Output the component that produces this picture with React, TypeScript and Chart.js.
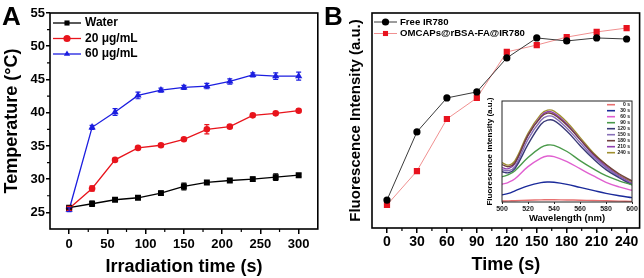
import React, { useEffect, useRef } from 'react';
import { Chart, registerables } from 'chart.js';

Chart.register(...registerables);

const FONT = '"Liberation Sans", Arial, Helvetica, sans-serif';

// ---------- Panel A data ----------
const timeA = [0, 30, 60, 90, 120, 150, 180, 210, 240, 270, 300];
const waterTemp = [25.7, 26.3, 26.9, 27.2, 27.9, 28.9, 29.5, 29.8, 30.0, 30.3, 30.6];
const waterErr = [0.2, 0.4, 0.2, 0.2, 0.3, 0.5, 0.2, 0.2, 0.3, 0.5, 0.2];
const temp20 = [25.6, 28.6, 32.9, 34.7, 35.1, 36.0, 37.5, 37.9, 39.6, 39.9, 40.3];
const err20 = [0.3, 0.4, 0.2, 0.2, 0.2, 0.2, 0.7, 0.2, 0.2, 0.2, 0.2];
const temp60 = [25.4, 37.8, 40.1, 42.6, 43.4, 43.8, 44.0, 44.7, 45.7, 45.5, 45.5];
const err60 = [0.3, 0.3, 0.5, 0.5, 0.3, 0.3, 0.4, 0.4, 0.3, 0.5, 0.6];
const seriesLabelsA = ['Water', '20 \u03bcg/mL', '60 \u03bcg/mL'];
const xTicksA = [0, 50, 100, 150, 200, 250, 300];
const xMinorA = [25, 75, 125, 175, 225, 275];
const yTicksA = [25, 30, 35, 40, 45, 50, 55];
const yMinorA = [27.5, 32.5, 37.5, 42.5, 47.5, 52.5];

// ---------- Panel B data ----------
const timeB = [0, 30, 60, 90, 120, 150, 180, 210, 240];
const freeIR780 = [13, 44.7, 60.5, 63.3, 79.1, 88.4, 87, 88.4, 87.9];
const omcaps = [10.7, 26.5, 50.7, 60.5, 81.9, 85.1, 88.8, 91.2, 93];
const seriesLabelsB = ['Free IR780', 'OMCAPs@rBSA-FA@IR780'];
const xTicksB = [0, 30, 60, 90, 120, 150, 180, 210, 240];
const xMinorB = [15, 45, 75, 105, 135, 165, 195, 225];

// ---------- Inset data ----------
const wavelengths = [500, 505, 510, 520, 530, 535, 540, 550, 560, 570, 580, 590, 600];
const spec0 = [1, 1.1, 1.3, 1.8, 2.1, 2.2, 2.2, 2, 1.8, 1.5, 1.2, 0.9, 0.6];
const spec30 = [7, 8.5, 11, 16, 19.2, 19.8, 19.6, 17.5, 14.5, 11.5, 8.5, 6.2, 4.3];
const spec60 = [17.5, 19.5, 23, 35, 43.5, 45.5, 45, 40, 33, 26, 19.5, 15, 11.6];
const spec90 = [25, 27, 31, 44, 54, 56.4, 56, 50, 41, 33, 26, 21, 17];
const spec120 = [30, 29, 33, 57, 77, 81, 80.5, 70, 56, 43, 32, 24, 17];
const spec150 = [32, 31, 35, 62, 81, 85, 84, 73, 59, 45, 34, 25, 17.5];
const spec180 = [37, 35, 39, 66, 84, 88, 86.5, 76, 62, 48, 37, 28, 21];
const spec210 = [34, 33, 38, 66, 85, 89.4, 88, 77, 62, 47, 35, 26, 18.5];
const spec240 = [39, 36.5, 41, 68, 87, 91, 90, 79, 64, 49, 37, 27, 20];
const specLabels = ['0 s', '30 s', '60 s', '90 s', '120 s', '150 s', '180 s', '210 s', '240 s'];
const specColors = ['#e87070', '#1a2a9a', '#e060d0', '#4a9a4a', '#3a3a78', '#8870b8', '#704040', '#9040b0', '#a09030'];
const specSeries = [spec0, spec30, spec60, spec90, spec120, spec150, spec180, spec210, spec240];
const xTicksInset = [500, 520, 540, 560, 580, 600];

function drawMarker(ctx: CanvasRenderingContext2D, style: string, x: number, y: number, r: number, color: string) {
  ctx.save();
  ctx.fillStyle = color;
  ctx.beginPath();
  if (style === 'rect') {
    const s = r * Math.SQRT1_2;
    ctx.rect(x - s, y - s, 2 * s, 2 * s);
  } else if (style === 'triangle') {
    ctx.moveTo(x, y - r);
    ctx.lineTo(x + r * 0.866, y + r * 0.5);
    ctx.lineTo(x - r * 0.866, y + r * 0.5);
    ctx.closePath();
  } else {
    ctx.arc(x, y, r, 0, Math.PI * 2);
  }
  ctx.fill();
  ctx.restore();
}

function makeDecor(o: any) {
  return {
    id: 'decor',
    afterDatasetsDraw(chart: any) {
      const ctx = chart.ctx;
      const ys = chart.scales.y;
      chart.data.datasets.forEach((ds: any, i: number) => {
        if (!ds.errors) return;
        const meta = chart.getDatasetMeta(i);
        ctx.save();
        ctx.strokeStyle = ds.borderColor;
        ctx.lineWidth = 1.2;
        meta.data.forEach((pt: any, j: number) => {
          const v = ds.data[j].y;
          const e = ds.errors[j];
          const y1 = ys.getPixelForValue(v - e);
          const y2 = ys.getPixelForValue(v + e);
          const x = pt.x;
          ctx.beginPath();
          ctx.moveTo(x, y1);
          ctx.lineTo(x, y2);
          ctx.moveTo(x - 2.5, y1);
          ctx.lineTo(x + 2.5, y1);
          ctx.moveTo(x - 2.5, y2);
          ctx.lineTo(x + 2.5, y2);
          ctx.stroke();
        });
        ctx.restore();
      });
    },
    afterDraw(chart: any) {
      const { ctx, chartArea: ca } = chart;
      ctx.save();
      // frame
      ctx.strokeStyle = o.frameColor || '#000';
      ctx.lineWidth = o.frameWidth;
      ctx.strokeRect(ca.left, ca.top, ca.right - ca.left, ca.bottom - ca.top);
      // minor ticks
      ctx.lineWidth = o.minorWidth || 1.2;
      ctx.beginPath();
      (o.minorX || []).forEach((v: number) => {
        const x = chart.scales.x.getPixelForValue(v);
        ctx.moveTo(x, ca.bottom);
        ctx.lineTo(x, ca.bottom + o.minorLen);
      });
      (o.minorY || []).forEach((v: number) => {
        const y = chart.scales.y.getPixelForValue(v);
        ctx.moveTo(ca.left, y);
        ctx.lineTo(ca.left - o.minorLen, y);
      });
      ctx.stroke();
      // legend
      if (o.legend) {
        const L = o.legend;
        ctx.font = L.font;
        ctx.textBaseline = 'middle';
        ctx.textAlign = L.textAlign || 'left';
        chart.data.datasets.forEach((ds: any, i: number) => {
          const y = L.y + i * L.dy;
          ctx.strokeStyle = ds.borderColor;
          ctx.lineWidth = L.lineWidth;
          ctx.beginPath();
          ctx.moveTo(L.x0, y);
          ctx.lineTo(L.x1, y);
          ctx.stroke();
          if (L.markerR) {
            drawMarker(ctx, ds.pointStyle, L.mx, y, L.markerR, ds.pointBackgroundColor);
          }
          ctx.fillStyle = L.textColor || '#000';
          ctx.fillText(ds.label, L.tx, y);
        });
      }
      // panel label
      if (o.label) {
        ctx.fillStyle = '#000';
        ctx.font = 'bold 26px ' + FONT;
        ctx.textAlign = 'left';
        ctx.textBaseline = 'alphabetic';
        ctx.fillText(o.label, o.labelX, o.labelY);
      }
      ctx.restore();
    },
  };
}

function pts(xs: number[], ys: number[]) {
  return xs.map((x, i) => ({ x, y: ys[i] }));
}

const boldFont = (size: number) => ({ family: FONT, size, weight: 'bold' as const });

function configA(): any {
  const mk = (label: string, ys: number[], errs: number[], color: string, style: string, r: number) => ({
    label,
    data: pts(timeA, ys),
    errors: errs,
    borderColor: color,
    backgroundColor: color,
    pointBackgroundColor: color,
    pointBorderColor: color,
    pointBorderWidth: 0,
    pointStyle: style,
    pointRadius: r,
    borderWidth: 1.3,
    tension: 0,
  });
  return {
    type: 'line',
    data: {
      datasets: [
        mk(seriesLabelsA[0], waterTemp, waterErr, '#000000', 'rect', 4.2),
        mk(seriesLabelsA[1], temp20, err20, '#e8141c', 'circle', 3.3),
        mk(seriesLabelsA[2], temp60, err60, '#1c1ee0', 'triangle', 4.2),
      ],
    },
    options: {
      animation: false,
      responsive: false,
      layout: { padding: { left: 0, top: 13, right: 3, bottom: 0 } },
      plugins: { legend: { display: false }, tooltip: { enabled: false } },
      scales: {
        x: {
          type: 'linear',
          min: -25,
          max: 325,
          afterBuildTicks: (s: any) => { s.ticks = xTicksA.map((v) => ({ value: v })); },
          afterFit: (s: any) => { s.height = 49; },
          ticks: { font: boldFont(13), color: '#000', padding: 3, autoSkip: false, maxRotation: 0 },
          grid: { drawOnChartArea: false, drawTicks: true, tickLength: 5, color: '#000', lineWidth: 1.5 },
          border: { display: false },
          title: { display: true, text: 'Irradiation time (s)', font: boldFont(18), color: '#000', padding: { top: 0, bottom: 0 } },
        },
        y: {
          type: 'linear',
          min: 22.5,
          max: 55,
          afterBuildTicks: (s: any) => { s.ticks = yTicksA.map((v) => ({ value: v })); },
          afterFit: (s: any) => { s.width = 50; },
          ticks: { font: boldFont(13), color: '#000', padding: 1, autoSkip: false },
          grid: { drawOnChartArea: false, drawTicks: true, tickLength: 4, color: '#000', lineWidth: 1.5 },
          border: { display: false },
          title: { display: true, text: 'Temperature (\u00b0C)', font: boldFont(18), color: '#000', padding: { top: 1, bottom: 0 } },
        },
      },
    },
    plugins: [
      makeDecor({
        frameWidth: 1.6,
        minorX: xMinorA,
        minorY: yMinorA,
        minorLen: 3,
        label: 'A',
        labelX: 2,
        labelY: 25,
        legend: { x0: 53, x1: 81, mx: 67, tx: 85, y: 23, dy: 15.5, lineWidth: 1.3, markerR: 3.6, font: 'bold 12px ' + FONT },
      }),
    ],
  };
}

function configB(): any {
  return {
    type: 'line',
    data: {
      datasets: [
        {
          label: seriesLabelsB[0],
          data: pts(timeB, freeIR780),
          borderColor: '#3a3a3a',
          pointBackgroundColor: '#000',
          pointBorderColor: '#000',
          pointBorderWidth: 0,
          pointStyle: 'circle',
          pointRadius: 3.6,
          borderWidth: 1,
          tension: 0,
        },
        {
          label: seriesLabelsB[1],
          data: pts(timeB, omcaps),
          borderColor: '#f09090',
          pointBackgroundColor: '#e8121e',
          pointBorderColor: '#e8121e',
          pointBorderWidth: 0,
          pointStyle: 'rect',
          pointRadius: 4.4,
          borderWidth: 1,
          tension: 0,
        },
      ],
    },
    options: {
      animation: false,
      responsive: false,
      layout: { padding: { left: 0, top: 13, right: 4, bottom: 0 } },
      plugins: { legend: { display: false }, tooltip: { enabled: false } },
      scales: {
        x: {
          type: 'linear',
          min: -15,
          max: 253,
          afterBuildTicks: (s: any) => { s.ticks = xTicksB.map((v) => ({ value: v })); },
          afterFit: (s: any) => { s.height = 50; },
          ticks: { font: boldFont(14), color: '#000', padding: 1, autoSkip: false, maxRotation: 0 },
          grid: { drawOnChartArea: false, drawTicks: true, tickLength: 5, color: '#000', lineWidth: 1.5 },
          border: { display: false },
          title: { display: true, text: 'Time (s)', font: boldFont(18), color: '#000', padding: { top: 0, bottom: 2 } },
        },
        y: {
          type: 'linear',
          min: 0,
          max: 100,
          afterFit: (s: any) => { s.width = 50; },
          ticks: { display: false },
          grid: { display: false },
          border: { display: false },
          title: { display: true, text: 'Fluorescence Intensity (a.u.)', font: boldFont(15), color: '#000', padding: { top: 25, bottom: 0 } },
        },
      },
    },
    plugins: [
      makeDecor({
        frameWidth: 1.6,
        minorX: xMinorB,
        minorLen: 3,
        label: 'B',
        labelX: 2,
        labelY: 25,
        legend: { x0: 52, x1: 75, mx: 63.5, tx: 78, y: 22, dy: 11.5, lineWidth: 1, markerR: 3.6, font: 'bold 9.6px ' + FONT },
      }),
    ],
  };
}

function configInset(): any {
  return {
    type: 'line',
    data: {
      datasets: specSeries.map((s, i) => ({
        label: specLabels[i],
        data: pts(wavelengths, s),
        borderColor: specColors[i],
        pointRadius: 0,
        borderWidth: 1.4,
        tension: 0.4,
        pointStyle: false,
      })),
    },
    options: {
      animation: false,
      responsive: false,
      layout: { padding: { left: 0, top: 6, right: 10, bottom: 0 } },
      plugins: { legend: { display: false }, tooltip: { enabled: false } },
      scales: {
        x: {
          type: 'linear',
          min: 500,
          max: 600,
          afterBuildTicks: (s: any) => { s.ticks = xTicksInset.map((v) => ({ value: v })); },
          afterFit: (s: any) => { s.height = 25; },
          ticks: { font: boldFont(7), color: '#222', padding: 1, autoSkip: false, maxRotation: 0 },
          grid: { drawOnChartArea: false, drawTicks: true, tickLength: 2, color: '#222', lineWidth: 1 },
          border: { display: false },
          title: { display: true, text: 'Wavelength (nm)', font: boldFont(9.5), color: '#000', padding: { top: 0, bottom: 3 } },
        },
        y: {
          type: 'linear',
          min: 0,
          max: 100,
          afterFit: (s: any) => { s.width = 32; },
          ticks: { display: false },
          grid: { display: false },
          border: { display: false },
          title: { display: true, text: 'Fluorescence intensity (a.u.)', font: boldFont(8), color: '#000', padding: { top: 15, bottom: 0 } },
        },
      },
    },
    plugins: [
      makeDecor({
        frameWidth: 1,
        frameColor: '#222',
        minorLen: 0,
        legend: { x0: 137, x1: 145, tx: 160, y: 9.7, dy: 6, lineWidth: 1.6, markerR: 0, font: 'bold 5px ' + FONT, textAlign: 'right', textColor: '#111' },
      }),
    ],
  };
}

function ChartCanvas({ make, left, top, width, height }: any) {
  const ref = useRef<HTMLCanvasElement | null>(null);
  useEffect(() => {
    if (!ref.current) return;
    const chart = new Chart(ref.current, make());
    return () => chart.destroy();
  }, []);
  return (
    <canvas
      ref={ref}
      width={width}
      height={height}
      style={{ position: 'absolute', left, top, width, height }}
    />
  );
}

export default function App() {
  return (
    <div style={{ position: 'absolute', left: 0, top: 0, width: 644, height: 278, background: '#fff', overflow: 'hidden' }}>
      <ChartCanvas make={configA} left={0} top={0} width={322} height={278} />
      <ChartCanvas make={configB} left={322} top={0} width={322} height={278} />
      <ChartCanvas make={configInset} left={470} top={95} width={172} height={132} />
    </div>
  );
}
